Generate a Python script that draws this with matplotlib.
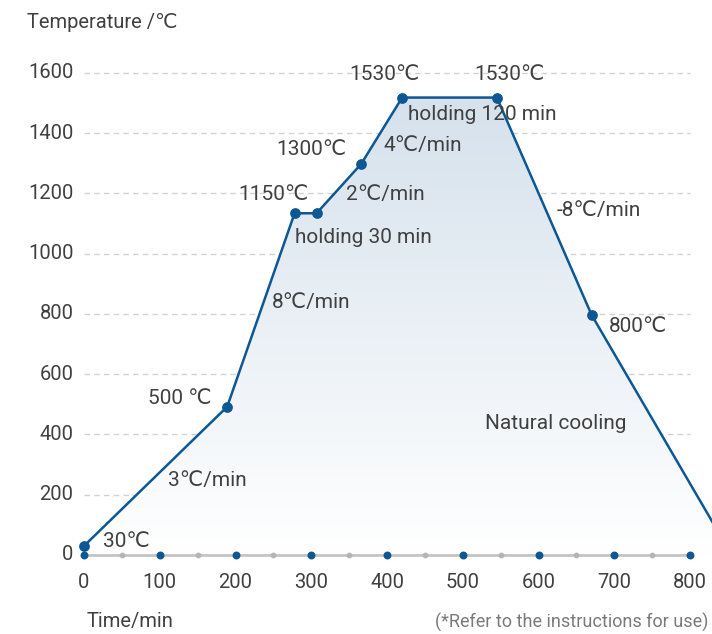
import matplotlib.pyplot as plt
import numpy as np
from matplotlib.patches import Polygon
from matplotlib.colors import LinearSegmentedColormap

plt.rcParams['font.family'] = ['Roboto', 'DejaVu Sans']

# firing curve (time in min, temperature in C)
time = [0, 189, 278, 307, 366, 420, 545, 670, 855]
temp = [30, 492, 1134, 1134, 1298, 1518, 1518, 797, 0]
marked = [0, 1, 2, 3, 4, 5, 6, 7]

yticks = [0, 200, 400, 600, 800, 1000, 1200, 1400, 1600]
xticks = [0, 100, 200, 300, 400, 500, 600, 700, 800]
xminor = [50, 150, 250, 350, 450, 550, 650, 750]

labels = ["30℃", "3℃/min", "500 ℃", "8℃/min", "1150℃", "holding 30 min",
          "2℃/min", "1300℃", "4℃/min", "1530℃", "1530℃", "holding 120 min",
          "-8℃/min", "800℃", "Natural cooling"]
label_x = [25, 111, 168, 248, 297, 279, 346, 346, 395, 397, 562, 428, 624, 693, 529]
label_y = [46, 246, 518, 837, 1195, 1052, 1195, 1344, 1358, 1593, 1593, 1461, 1142, 757, 438]
label_ha = ["left", "left", "right", "left", "right", "left", "left", "right", "left",
            "center", "center", "left", "left", "left", "left"]

blue = '#0c5794'
text_c = '#404040'

fig = plt.figure(figsize=(7.12, 6.34), dpi=100)
ax = fig.add_axes([84/712, 79/634, 628/712, 515/634])
ax.set_xlim(0, 829)
ax.set_ylim(0, 1709)
ax.axis('off')

# gradient fill under the curve
poly = Polygon(list(zip(time, temp)) + [(time[-1], 0), (0, 0)], closed=True,
               facecolor='none', edgecolor='none')
ax.add_patch(poly)
grad = np.linspace(0, 1, 256).reshape(-1, 1)
cmap = LinearSegmentedColormap.from_list('fade', ['#ffffff', '#d5e1ec'])
im = ax.imshow(grad, extent=[0, 900, 0, 1530], origin='lower', cmap=cmap,
               aspect='auto', zorder=1)
im.set_clip_path(poly)

# grid
for y in yticks[1:]:
    ax.plot([0, 800], [y, y], ls=(0, (4, 3)), color='#d2d2d2', lw=1, zorder=0)
for y in yticks:
    ax.text(-14, y, str(y), ha='right', va='center', fontsize=14.5, color=text_c)

# x axis
ax.plot([0, 800], [0, 0], color='#c4c4c4', lw=2, zorder=2, clip_on=False)
ax.scatter(xminor, [0]*len(xminor), s=10, color='#b4b4b4', zorder=3, clip_on=False)
ax.scatter(xticks, [0]*len(xticks), s=22, color=blue, zorder=3, clip_on=False)
for x in xticks:
    ax.text(x, -90, str(x), ha='center', va='center', fontsize=14.5, color=text_c)

# curve
ax.plot(time, temp, color=blue, lw=1.8, zorder=4)
ax.scatter([time[i] for i in marked], [temp[i] for i in marked], s=45,
           color=blue, zorder=5, clip_on=False)

for s, x, y, ha in zip(labels, label_x, label_y, label_ha):
    ax.text(x, y, s, ha=ha, va='center', fontsize=15, color=text_c, zorder=6)

fig.text(27/712, 1 - 22/634, "Temperature /℃", ha='left', va='center', fontsize=14.5, color=text_c)
fig.text(87/712, 1 - 621/634, "Time/min", ha='left', va='center', fontsize=14.5, color=text_c)
fig.text(708/712, 1 - 622/634, "(*Refer to the instructions for use)", ha='right',
         va='center', fontsize=13, color='#7a7a7a')

fig.savefig('out.png', dpi=100)
